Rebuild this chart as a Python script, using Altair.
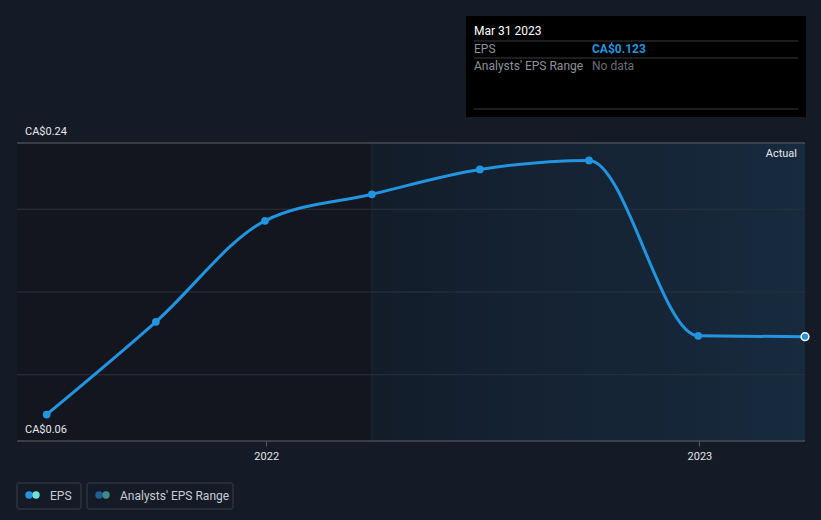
import altair as alt
import pandas as pd

dates = ["2021-06-30", "2021-09-30", "2021-12-31", "2022-03-31",
         "2022-06-30", "2022-09-30", "2022-12-31", "2023-03-31"]
eps = [0.076, 0.132, 0.193, 0.209, 0.224, 0.2295, 0.1235, 0.123]

x_domain = ["2021-06-05", "2023-03-31"]
forecast_start = "2022-03-31"
grid_vals = [0.10, 0.15, 0.20]
edge_vals = [0.06, 0.24]
y_label_vals = [0.24, 0.06]
y_label_text = ["CA$0.24", "CA$0.06"]

BG = "#151b26"
LINE = "#2394df"
FONT = "Roboto"

df = pd.DataFrame({"date": dates, "eps": eps})
df["last"] = [False] * (len(dates) - 1) + [True]

xs = alt.Scale(type="utc", domain=x_domain, nice=False)
ys = alt.Scale(domain=[0.06, 0.24], nice=False, zero=False)

W, H = 788, 298

x_axis = alt.Axis(values=[alt.DateTime(year=2022, month=1, date=1, utc=True),
                          alt.DateTime(year=2023, month=1, date=1, utc=True)],
                  format="%Y", formatType="utc", title=None, grid=False,
                  domain=False, tickColor="#555b66", tickSize=5,
                  labelColor="#e0e3e8", labelFont=FONT, labelFontSize=11,
                  labelPadding=4)

past = alt.Chart(pd.DataFrame({"s": [x_domain[0]], "e": [forecast_start]})).mark_rect(
    color="#13161e").encode(
    x=alt.X("s:T", scale=xs, axis=x_axis), x2="e:T",
    y=alt.value(0), y2=alt.value(H))

future = alt.Chart(pd.DataFrame({"s": [forecast_start], "e": [x_domain[1]]})).mark_rect(
    color=alt.Gradient(gradient="linear",
                       stops=[alt.GradientStop(color="#131d2a", offset=0),
                              alt.GradientStop(color="#172a3e", offset=1)],
                       x1=0, x2=1, y1=0, y2=0)).encode(
    x=alt.X("s:T", scale=xs), x2="e:T",
    y=alt.value(0), y2=alt.value(H))

divider = alt.Chart(pd.DataFrame({"d": [forecast_start]})).mark_rule(
    color="#17222f", strokeWidth=2
).encode(x=alt.X("d:T", scale=xs), y=alt.value(0), y2=alt.value(H))

grid = alt.Chart(pd.DataFrame({"v": grid_vals})).mark_rule(
    strokeWidth=1, color="#2a3340").encode(
    y=alt.Y("v:Q", scale=ys, axis=None), x=alt.value(0), x2=alt.value(W))

edges = alt.Chart(pd.DataFrame({"v": edge_vals})).mark_rule(
    strokeWidth=1.5, color="#474c55").encode(
    y=alt.Y("v:Q", scale=ys, axis=None), x=alt.value(0), x2=alt.value(W))

base = alt.Chart(df).encode(
    x=alt.X("date:T", scale=xs),
    y=alt.Y("eps:Q", scale=ys, axis=None),
)

line = base.mark_line(color=LINE, strokeWidth=3, interpolate="monotone")
pts = base.transform_filter("!datum.last").mark_circle(color=LINE, size=60, opacity=1)
last_pt = base.transform_filter("datum.last").mark_point(
    filled=True, fill=LINE, stroke="white", strokeWidth=1.5, size=60, opacity=1)

ylabels = alt.Chart(pd.DataFrame({"v": y_label_vals, "t": y_label_text})).mark_text(
    align="left", baseline="bottom", dx=0, dy=-6, color="#e6e8ec", font=FONT, fontSize=11
).encode(y=alt.Y("v:Q", scale=ys), x=alt.value(8), text="t:N")

actual = alt.Chart(pd.DataFrame({"t": ["Actual"]})).mark_text(
    align="right", baseline="middle", color="#e6e8ec", font=FONT, fontSize=11
).encode(x=alt.value(W - 8), y=alt.value(11), text="t:N")

# tooltip box
tip_x0, tip_y0 = 449, -127
tip_box = alt.Chart(pd.DataFrame({"a": [0]})).mark_rect(color="#000000").encode(
    x=alt.value(tip_x0), x2=alt.value(tip_x0 + 340),
    y=alt.value(tip_y0), y2=alt.value(tip_y0 + 101))
tip_lines = alt.Chart(pd.DataFrame({"yy": [tip_y0 + 25, tip_y0 + 42, tip_y0 + 93]})).mark_rule(
    color="#3a3a3a").encode(
    x=alt.value(tip_x0 + 8), x2=alt.value(tip_x0 + 332), y=alt.Y("yy:Q", scale=None))
tip_text = pd.DataFrame({
    "t": ["Mar 31 2023", "EPS", "Analysts' EPS Range", "No data"],
    "xx": [tip_x0 + 8, tip_x0 + 8, tip_x0 + 8, tip_x0 + 126],
    "yy": [tip_y0 + 15, tip_y0 + 33, tip_y0 + 50, tip_y0 + 50],
    "c": ["w", "g", "g", "d"],
})
tip_t = alt.Chart(tip_text).mark_text(align="left", baseline="middle", font=FONT, fontSize=12).encode(
    x=alt.X("xx:Q", scale=None), y=alt.Y("yy:Q", scale=None), text="t:N",
    color=alt.Color("c:N", scale=alt.Scale(domain=["w", "g", "d"],
                                           range=["#ffffff", "#8d929a", "#6a6e75"]), legend=None),
)
tip_val = alt.Chart(pd.DataFrame({"t": ["CA$0.123"]})).mark_text(
    align="left", baseline="middle", font=FONT, fontSize=12, fontWeight="bold", color=LINE
).encode(x=alt.value(tip_x0 + 126), y=alt.value(tip_y0 + 33), text="t:N")

# legend boxes
leg_y0 = H + 42
leg_boxes = alt.Chart(pd.DataFrame({"x0": [0, 70], "x1": [64, 216]})).mark_rect(
    fill=BG, stroke="#3b404a", strokeWidth=1, cornerRadius=2).encode(
    x=alt.X("x0:Q", scale=None), x2="x1:Q", y=alt.value(leg_y0), y2=alt.value(leg_y0 + 26))
leg_dots = alt.Chart(pd.DataFrame({
    "xx": [12, 19, 82, 89], "c": ["a", "b", "c", "d"]})).mark_circle(size=55, opacity=1).encode(
    x=alt.X("xx:Q", scale=None), y=alt.value(leg_y0 + 12),
    color=alt.Color("c:N", scale=alt.Scale(domain=["a", "b", "c", "d"],
                                           range=[LINE, "#6fe3d9", "#1f5f92", "#3e8a8a"]), legend=None))
leg_text = alt.Chart(pd.DataFrame({"t": ["EPS", "Analysts' EPS Range"], "xx": [33, 103]})).mark_text(
    align="left", baseline="middle", font=FONT, fontSize=12, color="#c8ccd3").encode(
    x=alt.X("xx:Q", scale=None), y=alt.value(leg_y0 + 13), text="t:N")

chart = alt.layer(
    past, future, divider, grid, edges, line, pts, last_pt, ylabels, actual,
    tip_box, tip_lines, tip_t, tip_val, leg_boxes, leg_dots, leg_text
).resolve_scale(color="independent").properties(
    width=W, height=H,
    background=BG,
    padding={"left": 17, "top": 143, "right": 16, "bottom": 79},
    autosize=alt.AutoSizeParams(type="none"),
).configure_view(stroke=None)

chart.save("out.html", embed_options={"renderer": "svg", "actions": False})
